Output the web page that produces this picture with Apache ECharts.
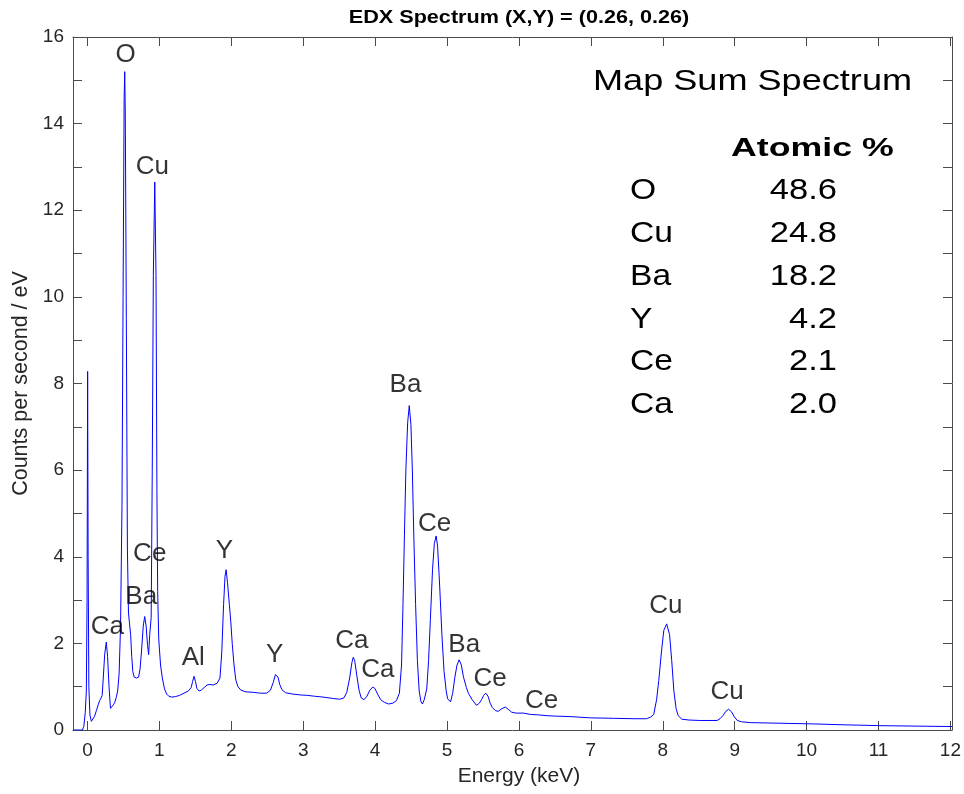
<!DOCTYPE html>
<html>
<head>
<meta charset="utf-8">
<script src="https://cdn.jsdelivr.net/npm/echarts@6/dist/echarts.min.js"></script>
<style>
html,body{margin:0;padding:0;background:#fff;}
#chart{width:964px;height:794px;}
</style>
</head>
<body>
<div id="chart"></div>
<script>
// ---- Spectrum ----
const energy = [
 -0.20,-0.07,-0.05,-0.03,-0.015,-0.005,0.003,0.010,0.020,0.035,0.055,0.07,0.10,0.125,0.15,0.17,0.19,0.205,
 0.22,0.24,0.262,0.28,0.30,0.32,0.34,0.36,0.38,0.40,0.42,0.44,0.46,0.48,0.495,0.51,0.518,0.526,0.54,0.555,
 0.57,0.585,0.60,0.615,0.63,0.65,0.68,0.71,0.73,0.75,0.775,0.795,0.815,0.835,0.85,0.865,0.885,0.90,0.915,
 0.935,0.952,0.965,0.975,0.99,1.015,1.04,1.07,1.10,1.13,1.17,1.22,1.28,1.34,1.40,1.44,1.46,1.48,1.50,1.52,
 1.55,1.58,1.62,1.66,1.70,1.75,1.80,1.84,1.865,1.89,1.91,1.925,1.945,1.97,1.99,2.01,2.035,2.06,2.09,2.13,
 2.20,2.30,2.40,2.49,2.54,2.58,2.61,2.625,2.645,2.67,2.70,2.75,2.85,2.95,3.05,3.15,3.27,3.40,3.50,3.56,
 3.60,3.64,3.67,3.69,3.71,3.74,3.77,3.80,3.84,3.88,3.92,3.96,3.99,4.03,4.07,4.12,4.18,4.24,4.29,4.33,
 4.36,4.38,4.40,4.42,4.445,4.467,4.49,4.51,4.53,4.555,4.58,4.605,4.63,4.65,4.675,4.71,4.735,4.76,4.79,
 4.815,4.84,4.86,4.89,4.92,4.95,4.98,5.00,5.04,5.07,5.10,5.13,5.16,5.19,5.22,5.26,5.29,5.34,5.40,5.44,
 5.47,5.50,5.53,5.56,5.59,5.62,5.66,5.70,5.75,5.80,5.84,5.89,5.95,6.05,6.15,6.25,6.38,6.50,6.70,6.98,
 7.30,7.60,7.76,7.82,7.86,7.90,7.93,7.97,8.00,8.04,8.08,8.11,8.14,8.17,8.20,8.25,8.35,8.50,8.74,8.78,
 8.82,8.86,8.90,8.94,8.98,9.02,9.08,9.20,9.50,10.08,10.50,11.00,11.50,12.00
];
const counts = [
 0,0,0.08,0.4,0.9,3.0,8.28,4.0,1.0,0.35,0.2,0.22,0.32,0.45,0.58,0.68,0.74,0.8,
 1.2,1.75,2.03,1.7,1.0,0.5,0.5,0.58,0.64,0.75,0.9,1.3,2.4,5.2,10.0,14.6,15.2,14.2,9.5,4.2,
 2.7,2.45,2.2,1.7,1.35,1.22,1.2,1.22,1.4,1.8,2.4,2.62,2.4,1.95,1.74,2.2,2.6,6.0,10.5,
 12.65,10.5,5.5,3.2,2.1,1.5,1.2,0.95,0.83,0.78,0.76,0.77,0.8,0.85,0.9,0.98,1.12,1.24,1.12,0.96,
 0.9,0.92,0.98,1.04,1.05,1.04,1.08,1.2,1.8,2.9,3.55,3.7,3.4,2.9,2.5,2.0,1.5,1.15,1.0,0.92,
 0.88,0.87,0.85,0.85,0.92,1.1,1.28,1.31,1.22,1.05,0.93,0.86,0.83,0.81,0.80,0.78,0.76,0.73,0.71,0.74,
 0.87,1.2,1.55,1.68,1.6,1.25,0.92,0.74,0.7,0.78,0.92,0.99,0.96,0.82,0.7,0.64,0.6,0.62,0.68,0.85,
 1.5,2.9,4.5,6.0,7.1,7.49,7.05,6.0,4.5,2.9,1.6,0.9,0.65,0.6,0.7,0.95,1.6,2.55,3.7,
 4.3,4.48,4.25,3.3,2.2,1.35,0.9,0.72,0.65,0.85,1.22,1.5,1.62,1.5,1.22,0.98,0.84,0.7,0.57,0.62,
 0.7,0.8,0.85,0.78,0.62,0.52,0.45,0.43,0.49,0.53,0.48,0.41,0.39,0.39,0.36,0.35,0.33,0.32,0.31,0.28,
 0.27,0.26,0.26,0.3,0.36,0.7,1.14,1.85,2.3,2.45,2.2,1.6,0.9,0.5,0.33,0.25,0.23,0.22,0.22,0.26,
 0.33,0.43,0.48,0.42,0.3,0.22,0.19,0.17,0.16,0.14,0.12,0.10,0.09,0.08
];

// ---- Peak annotations (element name, label anchor energy keV, label anchor counts) ----
const peakNames   = ['O','Cu','Ce','Ba','Ca','Al','Y','Y','Ca','Ca','Ba','Ce','Ba','Ce','Ce','Cu','Cu'];
const peakLabelE  = [0.53,0.90,0.865,0.747,0.276,1.47,1.90,2.60,3.67,4.03,4.415,4.82,5.23,5.59,6.305,8.03,8.88];
const peakLabelC  = [15.58,13.0,4.07,3.08,2.38,1.66,4.13,1.73,2.07,1.40,7.98,4.77,1.97,1.18,0.665,2.87,0.87];

// ---- Quantification table ----
const tableTitle = 'Map Sum Spectrum';
const tableHeader = 'Atomic %';
const tableElements = ['O','Cu','Ba','Y','Ce','Ca'];
const tableAtomicPct = [48.6,24.8,18.2,4.2,2.1,2.0];

// ---- Axis settings ----
const xMin = -0.2, xMax = 12, xTickStep = 1;
const yMin = 0, yMax = 16, yTickStep = 1, yLabelStep = 2;
const chartTitle = 'EDX Spectrum (X,Y) = (0.26, 0.26)';
const xName = 'Energy (keV)';
const yName = 'Counts per second / eV';

const FONT = "'Liberation Sans', Arial, Helvetica, sans-serif";
const TXT = '#262626';
const AX = '#4a4a4a';

const W = 964, H = 794;
const G = {left: 73, right: 12, top: 37, bottom: 64};
const plotW = W - G.left - G.right;
const tickLeft = G.left + plotW * (0 - xMin) / (xMax - xMin);

const chart = echarts.init(document.getElementById('chart'), null, {renderer: 'canvas'});

const spectrum = energy.map((e, i) => [e, counts[i]]);
const labelsData = peakNames.map((n, i) => ({name: n, value: [peakLabelE[i], peakLabelC[i]]}));

const graphics = [];
graphics.push({type: 'text', x: 519, y: 18, scaleX: 1.2,
  style: {text: chartTitle, fontFamily: FONT, fontSize: 18, fontWeight: 'bold', fill: '#000', align: 'center', verticalAlign: 'middle'}});
graphics.push({type: 'text', x: 593, y: 82, scaleX: 1.245,
  style: {text: tableTitle, fontFamily: FONT, fontSize: 29, fill: '#000', align: 'left', verticalAlign: 'middle'}});
graphics.push({type: 'text', x: 731, y: 149, scaleX: 1.4,
  style: {text: tableHeader, fontFamily: FONT, fontSize: 25.5, fontWeight: 'bold', fill: '#000', align: 'left', verticalAlign: 'middle'}});
tableElements.forEach((el, i) => {
  const y = 191 + i * 42.8;
  graphics.push({type: 'text', x: 630, y: y, scaleX: 1.12,
    style: {text: el, fontFamily: FONT, fontSize: 30, fill: '#000', align: 'left', verticalAlign: 'middle'}});
  graphics.push({type: 'text', x: 837, y: y, scaleX: 1.15,
    style: {text: tableAtomicPct[i].toFixed(1), fontFamily: FONT, fontSize: 30, fill: '#000', align: 'right', verticalAlign: 'middle'}});
});

const option = {
  backgroundColor: '#fff',
  animation: false,
  textStyle: {fontFamily: FONT},
  grid: [
    {left: G.left, right: G.right, top: G.top, bottom: G.bottom, containLabel: false},
    {left: tickLeft, right: G.right, top: G.top, bottom: G.bottom, containLabel: false}
  ],
  xAxis: [
    // data axes (box lines only)
    {type: 'value', gridIndex: 0, min: xMin, max: xMax, position: 'bottom',
     axisLine: {show: true, onZero: false, lineStyle: {color: AX, width: 1}},
     axisTick: {show: false}, axisLabel: {show: false}, splitLine: {show: false}},
    {type: 'value', gridIndex: 0, min: xMin, max: xMax, position: 'top',
     axisLine: {show: true, onZero: false, lineStyle: {color: AX, width: 1}},
     axisTick: {show: false}, axisLabel: {show: false}, splitLine: {show: false}},
    // tick axes (0..12)
    {type: 'value', gridIndex: 1, min: 0, max: xMax, interval: xTickStep, position: 'bottom',
     name: xName, nameLocation: 'middle', nameGap: 36,
     nameTextStyle: {color: TXT, fontSize: 21, fontFamily: FONT},
     axisLine: {show: false, onZero: false},
     axisTick: {show: true, inside: true, length: 9, lineStyle: {color: AX}},
     axisLabel: {show: true, color: TXT, fontSize: 19, margin: 11, fontFamily: FONT},
     splitLine: {show: false}},
    {type: 'value', gridIndex: 1, min: 0, max: xMax, interval: xTickStep, position: 'top',
     axisLine: {show: false, onZero: false},
     axisTick: {show: true, inside: true, length: 9, lineStyle: {color: AX}},
     axisLabel: {show: false}, splitLine: {show: false}}
  ],
  yAxis: [
    {type: 'value', gridIndex: 0, min: yMin, max: yMax, interval: yTickStep, position: 'left',
     name: yName, nameLocation: 'middle', nameGap: 41,
     nameTextStyle: {color: TXT, fontSize: 21.5, fontFamily: FONT},
     axisLine: {show: true, onZero: false, lineStyle: {color: AX, width: 1}},
     axisTick: {show: true, inside: true, length: 9, lineStyle: {color: AX}},
     axisLabel: {show: true, color: TXT, fontSize: 19, margin: 9, fontFamily: FONT,
       formatter: v => (Math.round(v) % yLabelStep === 0 ? String(v) : '')},
     splitLine: {show: false}},
    {type: 'value', gridIndex: 0, min: yMin, max: yMax, interval: yTickStep, position: 'right',
     axisLine: {show: true, onZero: false, lineStyle: {color: AX, width: 1}},
     axisTick: {show: true, inside: true, length: 9, lineStyle: {color: AX}},
     axisLabel: {show: false}, splitLine: {show: false}},
    {type: 'value', gridIndex: 1, min: yMin, max: yMax, show: false}
  ],
  series: [
    {type: 'line', name: 'spectrum', xAxisIndex: 0, yAxisIndex: 0, data: spectrum,
     showSymbol: false, symbol: 'none', smooth: false,
     lineStyle: {color: '#0000ff', width: 1}, z: 3},
    {type: 'scatter', name: 'labels', xAxisIndex: 0, yAxisIndex: 0, data: labelsData,
     symbolSize: 0, silent: true, z: 4,
     label: {show: true, position: 'inside', formatter: '{b}', color: '#000', fontSize: 26, fontFamily: FONT}}
  ],
  graphic: graphics
};
chart.setOption(option);
</script>
</body>
</html>
